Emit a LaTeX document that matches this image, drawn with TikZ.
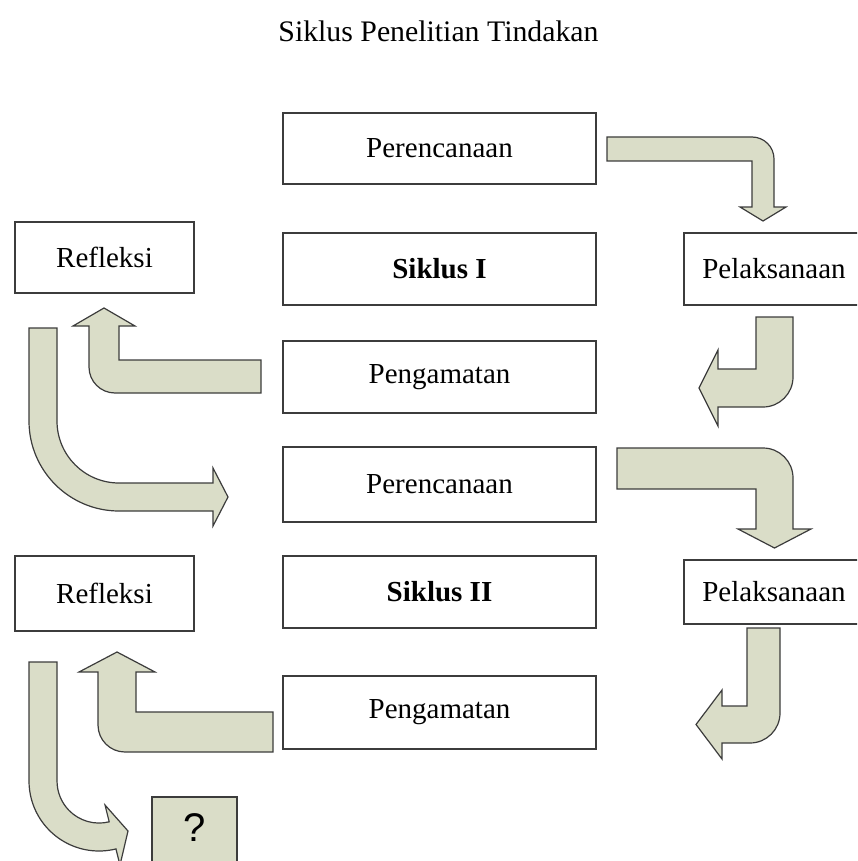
\documentclass[tikz,border=0pt]{standalone}
\usepackage{fontspec}
\setmainfont{Liberation Serif}
\newfontfamily\qmarkfont{Liberation Sans}
\definecolor{arrowfill}{RGB}{218,221,200}
\definecolor{edgegray}{RGB}{60,60,60}
\newcommand{\boxfont}{\fontsize{29}{34}\selectfont}

\begin{document}
\begin{tikzpicture}[x=1pt,y=-1pt]
    \tikzset{stagebox/.style={draw=edgegray, line width=1.5pt, fill=white, minimum height=72pt, inner sep=0pt, font=\boxfont},
             midbox/.style={stagebox, minimum width=313pt},
             sidebox/.style={stagebox, minimum width=180pt},
             bentarrow/.style={fill=arrowfill, draw=edgegray, line width=1.2pt, line join=miter}}
    \path[use as bounding box, clip] (0,0) rectangle (857,861);
    \node[anchor=base, font=\fontsize{29.8}{34}\selectfont] (title) at (438.5,42) {Siklus Penelitian Tindakan};

    \node[midbox, minimum height=71pt] (plan1) at (439.5,148.5) {Perencanaan};
    \node[midbox] (cycle1) at (439.5,269) {\textbf{Siklus I}};
    \node[midbox] (observe1) at (439.5,377) {Pengamatan};
    \node[midbox, minimum height=75pt] (plan2) at (439.5,484.5) {Perencanaan};
    \node[midbox] (cycle2) at (439.5,592) {\textbf{Siklus II}};
    \node[midbox, minimum height=73pt] (observe2) at (439.5,712.5) {Pengamatan};
    \node[sidebox, minimum width=179pt, minimum height=71pt] (reflect1) at (104.5,257.5) {Refleksi};
    \node[sidebox, minimum width=179pt, minimum height=75pt] (reflect2) at (104.5,593.5) {Refleksi};
    \node[sidebox] (act1) at (774,269) {Pelaksanaan};
    \node[sidebox, minimum height=64pt] (act2) at (774,592) {Pelaksanaan};
    \node[draw=edgegray, line width=1.5pt, fill=arrowfill, anchor=north, minimum width=85pt,
          inner ysep=17pt, text depth=40pt, font=\qmarkfont\fontsize{40}{40}\selectfont] (next) at (194.5,796) {?};

    % siklus I
    \filldraw[bentarrow] (607,137) -- (752,137) arc(-90:0:22) -- (774,207) -- (786,207) -- (763,221)
        -- (740,207) -- (752,207) -- (752,161) -- (607,161) -- cycle;
    \filldraw[bentarrow] (756,317) -- (793,317) -- (793,377) arc(0:90:30) -- (718,407) -- (718,426)
        -- (699,388) -- (718,350) -- (718,369) -- (756,369) -- cycle;
    \filldraw[bentarrow] (261,360) -- (261,393) -- (115,393) arc(90:180:26) -- (89,326) -- (73,326)
        -- (104,308) -- (135,326) -- (119,326) -- (119,360) -- cycle;
    \filldraw[bentarrow] (29,328) -- (29,421) arc(180:90:90) -- (213,511) -- (213,526) -- (228,497)
        -- (213,468) -- (213,483) -- (119,483) arc(90:180:62) -- (57,328) -- cycle;

    % siklus II
    \filldraw[bentarrow] (617,448) -- (763,448) arc(-90:0:30) -- (793,529) -- (811,529) -- (774.5,548)
        -- (738,529) -- (756,529) -- (756,489) -- (617,489) -- cycle;
    \filldraw[bentarrow] (747,628) -- (780,628) -- (780,713) arc(0:90:30) -- (722,743) -- (722,759)
        -- (696,724.5) -- (722,690) -- (722,706) -- (747,706) -- cycle;
    \filldraw[bentarrow] (273,712) -- (273,752) -- (125,752) arc(90:180:27) -- (98,672) -- (79,672)
        -- (117,652) -- (155,672) -- (136,672) -- (136,712) -- cycle;
    \filldraw[bentarrow] (29,662) -- (29,781) arc(180:76:70) -- (120,865) -- (128,831) -- (105,805)
        -- (109.2,821.8) arc(76:180:42) -- (57,662) -- cycle;
\end{tikzpicture}
\end{document}
